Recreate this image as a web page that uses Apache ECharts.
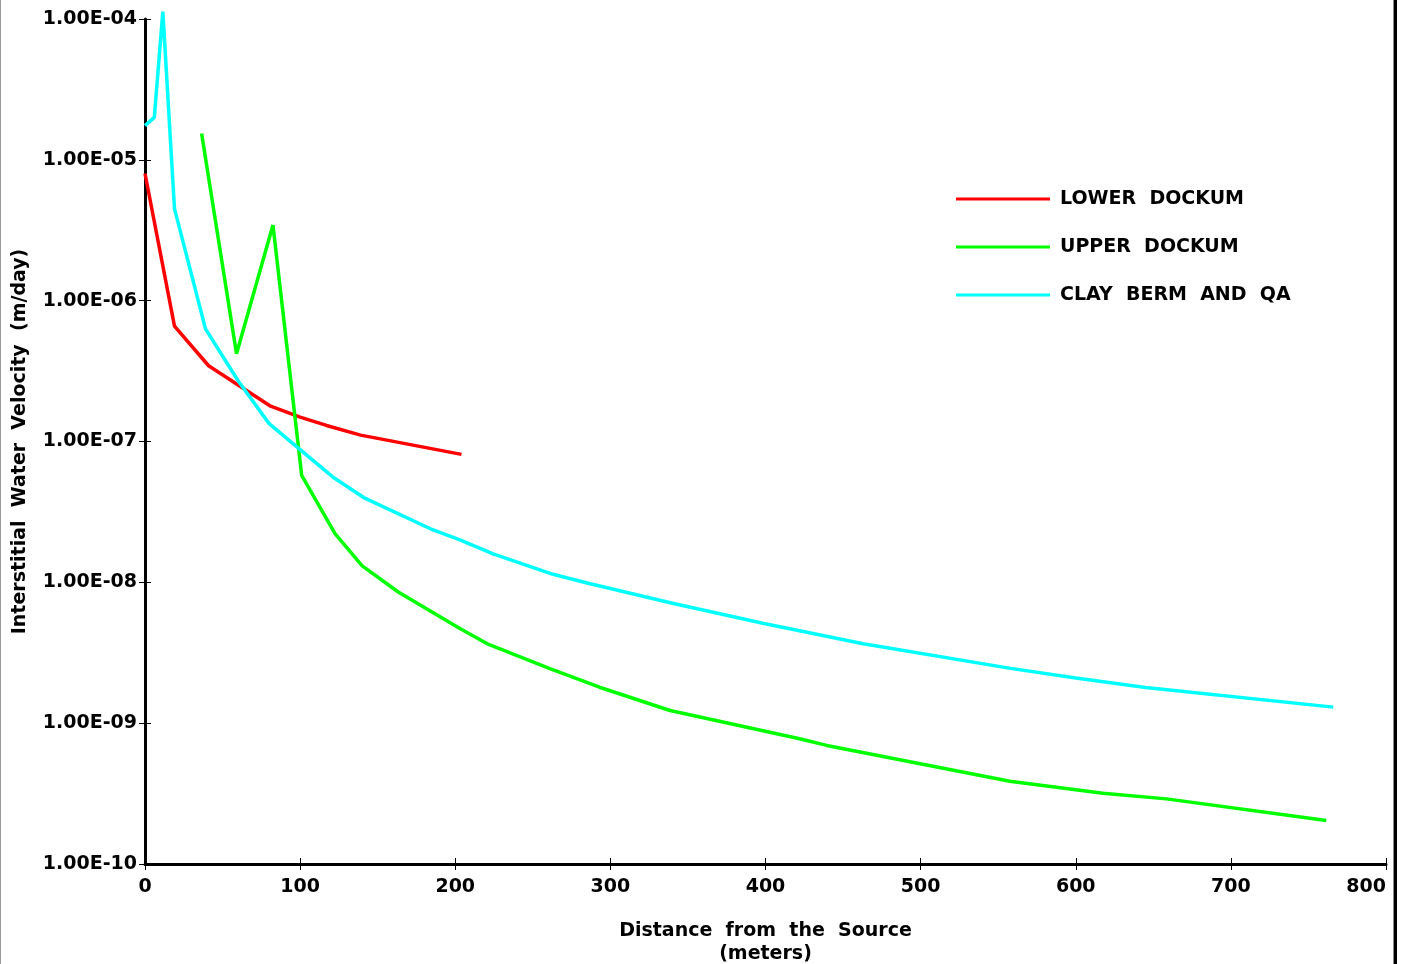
<!DOCTYPE html>
<html>
<head>
<meta charset="utf-8">
<script src="https://cdn.jsdelivr.net/npm/echarts@6/dist/echarts.min.js"></script>
<style>
  html, body { margin: 0; padding: 0; background: #fff; }
  #chart { width: 1413px; height: 964px; }
</style>
</head>
<body>
<div id="chart"></div>
<script>
var seriesNames = ['LOWER DOCKUM', 'UPPER DOCKUM', 'CLAY BERM AND QA'];
var seriesColors = ['#ff0000', '#00ff00', '#00ffff'];

// distance (m) / velocity (m/day)
var lowerX = [0, 19, 41, 81, 100, 117, 139, 204];
var lowerY = [8.0e-6, 6.6e-7, 3.45e-7, 1.78e-7, 1.49e-7, 1.30e-7, 1.11e-7, 8.1e-8];

var upperX = [36.5, 59, 82.5, 101, 122.5, 140, 163.5, 203, 221.5, 261, 293, 338.5, 422, 439.5, 557.5, 617.5, 658.5, 761.5];
var upperY = [1.54e-5, 4.2e-7, 3.44e-6, 5.75e-8, 2.22e-8, 1.31e-8, 8.5e-9, 4.7e-9, 3.62e-9, 2.44e-9, 1.80e-9, 1.23e-9, 7.75e-10, 6.95e-10, 3.87e-10, 3.18e-10, 2.90e-10, 2.04e-10];

var clayX = [0, 6, 11.5, 19, 39, 60, 80, 121, 141, 184, 203, 224, 263, 285, 340, 399, 463, 558, 600, 645, 766];
var clayY = [1.75e-5, 2.0e-5, 1.13e-4, 4.5e-6, 6.3e-7, 2.7e-7, 1.34e-7, 5.6e-8, 4.0e-8, 2.4e-8, 2.0e-8, 1.6e-8, 1.14e-8, 9.9e-9, 7.1e-9, 5.1e-9, 3.66e-9, 2.45e-9, 2.09e-9, 1.79e-9, 1.30e-9];

var xTicks = [0, 100, 200, 300, 400, 500, 600, 700, 800];

function pairs(xs, ys) {
    return xs.map(function (x, i) { return [x, ys[i]]; });
}

function expLabel(v) {
    var e = Math.round(Math.log10(v));
    var m = v / Math.pow(10, e);
    var s = Math.abs(e) < 10 ? '0' + Math.abs(e) : '' + Math.abs(e);
    return m.toFixed(2) + 'E' + (e < 0 ? '-' : '+') + s;
}

var labelFont = {
    color: '#000',
    fontFamily: 'DejaVu Sans',
    fontSize: 19,
    fontWeight: 'bold'
};

var chart = echarts.init(document.getElementById('chart'));

var option = {
    animation: false,
    backgroundColor: '#fff',
    grid: { left: 145, right: 27, top: 19, bottom: 100, outerBoundsMode: 'none', containLabel: false },
    legend: {
        orient: 'vertical',
        left: 951,
        top: 184,
        icon: 'rect',
        itemWidth: 94,
        itemHeight: 3,
        itemGap: 28,
        data: seriesNames,
        formatter: function (name) { return name.replace(/ /g, '  '); },
        textStyle: {
            color: '#000',
            fontFamily: 'DejaVu Sans',
            fontSize: 19,
            fontWeight: 'bold',
            lineHeight: 20,
            padding: [0, 0, 0, 5]
        }
    },
    xAxis: [{
        type: 'value',
        min: xTicks[0],
        max: xTicks[xTicks.length - 1],
        interval: 100,
        name: 'Distance  from  the  Source\n(meters)',
        nameLocation: 'middle',
        nameGap: 56,
        nameTextStyle: { color: '#000', fontFamily: 'DejaVu Sans', fontSize: 19, fontWeight: 'bold', lineHeight: 23 },
        axisLine: { lineStyle: { color: '#000', width: 3 } },
        axisTick: { length: 6, lineStyle: { color: '#000', width: 1 } },
        axisLabel: Object.assign({ margin: 14, alignMaxLabel: 'right' }, labelFont),
        splitLine: { show: false }
    }, {
        type: 'value',
        position: 'bottom',
        min: xTicks[0],
        max: xTicks[xTicks.length - 1],
        interval: 100,
        axisLine: { show: false },
        axisTick: { inside: true, length: 6, lineStyle: { color: '#000', width: 1 } },
        axisLabel: { show: false },
        splitLine: { show: false }
    }],
    yAxis: [{
        type: 'log',
        logBase: 10,
        min: 1e-10,
        max: 1e-4,
        name: 'Interstitial  Water  Velocity  (m/day)',
        nameLocation: 'middle',
        nameGap: 115,
        nameTextStyle: { color: '#000', fontFamily: 'DejaVu Sans', fontSize: 19, fontWeight: 'bold' },
        axisLine: { lineStyle: { color: '#000', width: 3 } },
        axisTick: { length: 6, lineStyle: { color: '#000', width: 1 } },
        axisLabel: Object.assign({ margin: 8, formatter: expLabel }, labelFont),
        splitLine: { show: false },
        minorTick: { show: false }
    }, {
        type: 'log',
        logBase: 10,
        position: 'left',
        min: 1e-10,
        max: 1e-4,
        axisLine: { show: false },
        axisTick: { inside: true, length: 6, lineStyle: { color: '#000', width: 1 } },
        axisLabel: { show: false },
        splitLine: { show: false }
    }],
    graphic: [
        { type: 'rect', left: 0, top: 0, shape: { width: 1, height: 964 }, style: { fill: '#999' } },
        { type: 'rect', left: 1393, top: 0, shape: { width: 1, height: 964 }, style: { fill: '#888' } },
        { type: 'rect', left: 1394, top: 0, shape: { width: 3, height: 964 }, style: { fill: '#000' } }
    ],
    series: [
        { name: seriesNames[0], data: pairs(lowerX, lowerY) },
        { name: seriesNames[1], data: pairs(upperX, upperY) },
        { name: seriesNames[2], data: pairs(clayX, clayY) }
    ].map(function (s, i) {
        return Object.assign({
            type: 'line',
            symbol: 'none',
            clip: false,
            color: seriesColors[i],
            lineStyle: { color: seriesColors[i], width: 3.5 }
        }, s);
    })
};

chart.setOption(option);
</script>
</body>
</html>
